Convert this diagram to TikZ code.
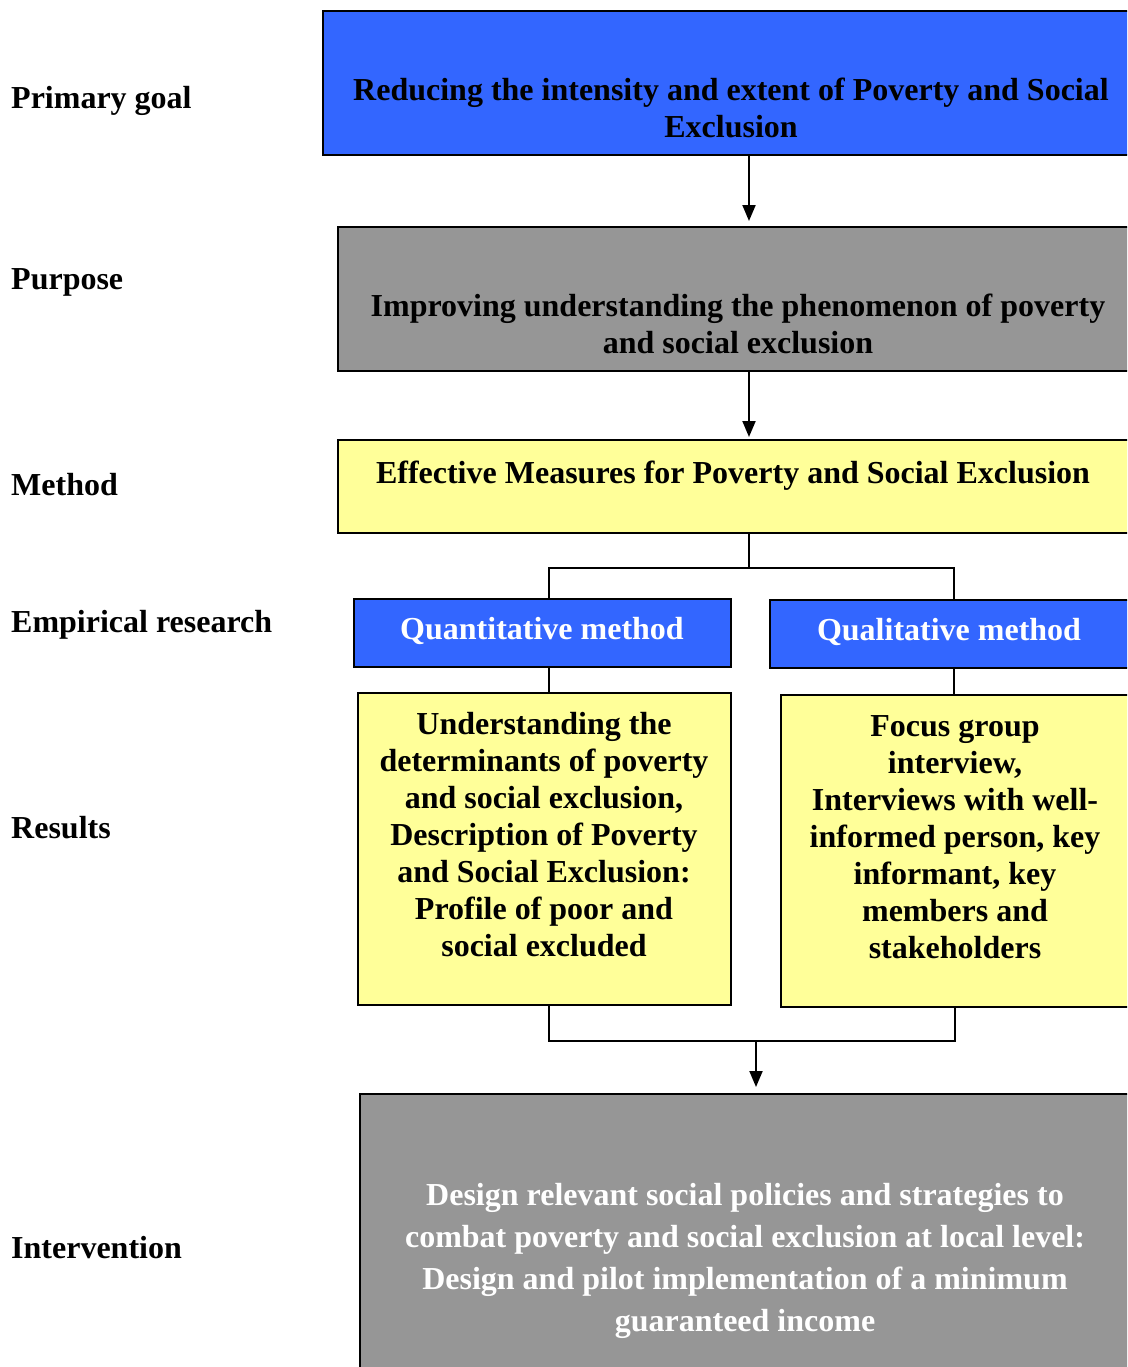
\documentclass[tikz,border=0pt]{standalone}
\usepackage{fontspec}
\setmainfont{Liberation Serif}
\usetikzlibrary{arrows.meta}
\definecolor{bblue}{HTML}{3366FF}
\definecolor{bgray}{HTML}{969696}
\definecolor{byellow}{HTML}{FFFF99}
\begin{document}
\begin{tikzpicture}[x=1pt,y=-1pt,
  box/.style={draw=black, line width=2pt, anchor=north west, inner sep=0pt, outer sep=0pt},
  txt/.style={align=center, inner sep=0pt, font=\bfseries\fontsize{32}{37}\selectfont},
  lbl/.style={anchor=west, inner sep=0pt, font=\bfseries\fontsize{32}{37}\selectfont},
  conn/.style={line width=2pt},
  arr/.style={line width=2pt, -{Triangle[length=16pt,width=13pt]}}]
\useasboundingbox (0,0) rectangle (1127,1367);
\clip (0,0) rectangle (1127,1367);
\fill[white] (0,0) rectangle (1127,1367);

% left labels
\node[lbl] (l1) at (11,101) {Primary goal};
\node[lbl] (l2) at (11,282) {Purpose};
\node[lbl] (l3) at (11,485) {Method};
\node[lbl] (l4) at (11,625) {Empirical research};
\node[lbl] (l5) at (11,828) {Results};
\node[lbl] (l6) at (11,1248) {Intervention};

% boxes
\node[box, fill=bblue, minimum width=830pt, minimum height=144pt] (g) at (323,11) {};
\node[box, fill=bgray, minimum width=815pt, minimum height=144pt] (p) at (338,227) {};
\node[box, fill=byellow, minimum width=815pt, minimum height=93pt] (m) at (338,440) {};
\node[box, fill=bblue, minimum width=377pt, minimum height=68pt] (qn) at (354,599) {};
\node[box, fill=bblue, minimum width=380pt, minimum height=68pt] (ql) at (770,600) {};
\node[box, fill=byellow, minimum width=373pt, minimum height=312pt] (rn) at (358,693) {};
\node[box, fill=byellow, minimum width=380pt, minimum height=312pt] (rl) at (781,695) {};
\node[box, fill=bgray, minimum width=800pt, minimum height=320pt] (iv) at (360,1094) {};

% texts
\node[txt] (gt) at (731,108) {Reducing the intensity and extent of Poverty and Social\\Exclusion};
\node[txt] (pt) at (738,324) {Improving understanding the phenomenon of poverty\\and social exclusion};
\node[txt] (mt) at (733,476) {Effective Measures for Poverty and Social Exclusion};
\node[txt, text=white] (qnt) at (542,631) {Quantitative method};
\node[txt, text=white] (qlt) at (949,632) {Qualitative method};
\node[txt] (rnt) at (544,835) {Understanding the\\determinants of poverty\\and social exclusion,\\Description of Poverty\\and Social Exclusion:\\Profile of poor and\\social excluded};
\node[txt] (rlt) at (955,837) {Focus group\\interview,\\Interviews with well-\\informed person, key\\informant, key\\members and\\stakeholders};
\node[txt, text=white, font=\bfseries\fontsize{32}{42}\selectfont] (ivt) at (745,1261) {Design relevant social policies and strategies to\\combat poverty and social exclusion at local level:\\Design and pilot implementation of a minimum\\guaranteed income};

% connectors
\draw[arr, shorten >=6pt] (g.south west -| 749,0) -- (p.north west -| 749,0);
\draw[arr, shorten >=3pt] (p.south west -| 749,0) -- (m.north west -| 749,0);
\coordinate (s1) at (749,568);
\draw[conn] (m.south west -| s1) -- (s1);
\draw[conn] (qn.north west -| 549,0) |- (s1) -| (ql.north west -| 954,0);
\draw[conn] (qn.south west -| 549,0) -- (rn.north west -| 549,0);
\draw[conn] (ql.south west -| 954,0) -- (rl.north west -| 954,0);
\coordinate (s2) at (756,1041);
\draw[conn] (rn.south west -| 549,0) |- (s2) -| (rl.south west -| 955,0);
\draw[arr, shorten >=7pt] (s2) -- (iv.north west -| s2);
\end{tikzpicture}
\end{document}
